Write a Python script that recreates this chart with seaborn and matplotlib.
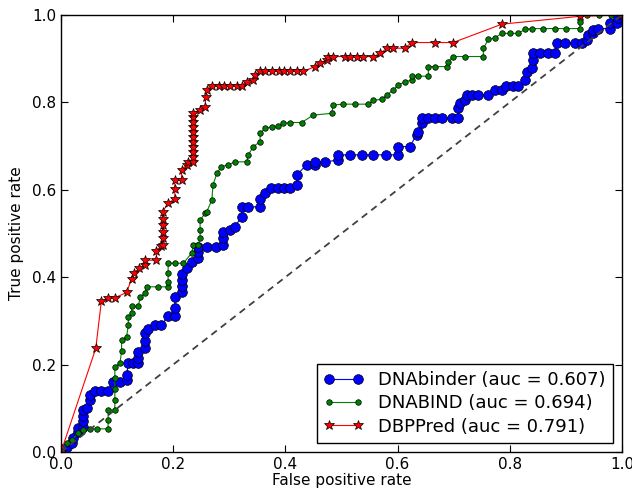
"""
Curvas ROC dos preditores de proteínas de ligação ao DNA
"""

import matplotlib
matplotlib.use('Agg')
import matplotlib.pyplot as plt
import seaborn as sns

# DNAbinder (auc = 0.607)
fpr_dnabinder = [0.0, 0.001, 0.010, 0.019, 0.022, 0.031, 0.031, 0.040, 0.040, 0.040, 0.040, 0.046,
                 0.052, 0.052, 0.060, 0.072, 0.084, 0.093, 0.105, 0.117, 0.117, 0.120, 0.129, 0.138,
                 0.138, 0.138, 0.150, 0.150, 0.150, 0.156, 0.167, 0.179, 0.191, 0.203, 0.203, 0.203,
                 0.215, 0.215, 0.215, 0.215, 0.224, 0.233, 0.245, 0.245, 0.245, 0.260, 0.277, 0.289,
                 0.289, 0.289, 0.301, 0.310, 0.322, 0.322, 0.334, 0.355, 0.355, 0.364, 0.375, 0.387,
                 0.397, 0.408, 0.420, 0.420, 0.438, 0.453, 0.453, 0.471, 0.494, 0.494, 0.515, 0.536,
                 0.557, 0.580, 0.601, 0.601, 0.622, 0.634, 0.637, 0.643, 0.643, 0.655, 0.667, 0.679,
                 0.697, 0.708, 0.708, 0.711, 0.720, 0.723, 0.732, 0.744, 0.762, 0.774, 0.786, 0.794,
                 0.806, 0.815, 0.827, 0.830, 0.839, 0.842, 0.842, 0.854, 0.869, 0.881, 0.884, 0.898,
                 0.916, 0.928, 0.937, 0.940, 0.949, 0.949, 0.958, 0.979, 0.979, 0.991, 0.993, 1.0]
tpr_dnabinder = [0.0, 0.008, 0.012, 0.020, 0.031, 0.046, 0.054, 0.057, 0.070, 0.083, 0.096, 0.100,
                 0.119, 0.130, 0.140, 0.140, 0.140, 0.161, 0.161, 0.165, 0.176, 0.203, 0.203, 0.203,
                 0.215, 0.228, 0.238, 0.255, 0.272, 0.282, 0.290, 0.290, 0.311, 0.311, 0.330, 0.355,
                 0.366, 0.380, 0.393, 0.408, 0.420, 0.435, 0.443, 0.458, 0.470, 0.470, 0.470, 0.474,
                 0.489, 0.504, 0.508, 0.516, 0.538, 0.561, 0.561, 0.561, 0.580, 0.592, 0.603, 0.603,
                 0.603, 0.603, 0.611, 0.634, 0.657, 0.657, 0.664, 0.664, 0.668, 0.680, 0.680, 0.680,
                 0.680, 0.680, 0.680, 0.699, 0.699, 0.726, 0.733, 0.752, 0.764, 0.764, 0.764, 0.764,
                 0.764, 0.764, 0.787, 0.798, 0.805, 0.817, 0.818, 0.818, 0.818, 0.828, 0.828, 0.838,
                 0.838, 0.838, 0.851, 0.870, 0.878, 0.897, 0.914, 0.914, 0.914, 0.914, 0.935, 0.937,
                 0.937, 0.937, 0.943, 0.954, 0.958, 0.966, 0.969, 0.969, 0.981, 0.981, 0.993, 1.0]

# DNABIND (auc = 0.694)
fpr_dnabind = [0.0, 0.010, 0.019, 0.031, 0.040, 0.052, 0.064, 0.084, 0.084, 0.084, 0.096, 0.096,
               0.096, 0.096, 0.096, 0.105, 0.108, 0.108, 0.117, 0.120, 0.120, 0.126, 0.126, 0.138,
               0.141, 0.150, 0.153, 0.173, 0.191, 0.191, 0.191, 0.191, 0.203, 0.218, 0.233, 0.236,
               0.245, 0.248, 0.248, 0.248, 0.257, 0.260, 0.269, 0.271, 0.278, 0.286, 0.298, 0.310,
               0.331, 0.334, 0.343, 0.355, 0.355, 0.364, 0.376, 0.387, 0.396, 0.408, 0.429, 0.450,
               0.483, 0.485, 0.503, 0.525, 0.548, 0.557, 0.572, 0.581, 0.592, 0.601, 0.613, 0.625,
               0.625, 0.637, 0.655, 0.655, 0.667, 0.688, 0.690, 0.699, 0.720, 0.753, 0.753, 0.762,
               0.774, 0.786, 0.800, 0.815, 0.827, 0.839, 0.860, 0.880, 0.901, 0.925, 0.925, 0.925,
               0.937, 0.960, 0.980, 1.0]
tpr_dnabind = [0.0, 0.020, 0.027, 0.043, 0.050, 0.053, 0.053, 0.053, 0.073, 0.096, 0.096, 0.120,
               0.145, 0.170, 0.195, 0.203, 0.230, 0.256, 0.264, 0.290, 0.310, 0.317, 0.333, 0.333,
               0.355, 0.363, 0.378, 0.378, 0.378, 0.390, 0.410, 0.432, 0.432, 0.432, 0.455, 0.474,
               0.474, 0.490, 0.508, 0.531, 0.546, 0.550, 0.577, 0.611, 0.638, 0.653, 0.657, 0.664,
               0.664, 0.680, 0.699, 0.710, 0.729, 0.741, 0.744, 0.746, 0.752, 0.754, 0.754, 0.771,
               0.775, 0.794, 0.796, 0.796, 0.796, 0.805, 0.807, 0.817, 0.828, 0.840, 0.847, 0.851,
               0.860, 0.860, 0.860, 0.882, 0.882, 0.882, 0.893, 0.905, 0.905, 0.905, 0.924, 0.944,
               0.948, 0.958, 0.958, 0.958, 0.967, 0.969, 0.969, 0.969, 0.969, 0.969, 0.985, 1.0,
               1.0, 1.0, 1.0, 1.0]

# DBPPred (auc = 0.791)
fpr_dbppred = [0.0, 0.062, 0.072, 0.084, 0.096, 0.117, 0.126, 0.130, 0.139, 0.150, 0.150, 0.170,
               0.170, 0.179, 0.181, 0.181, 0.181, 0.181, 0.181, 0.181, 0.191, 0.203, 0.203, 0.203,
               0.215, 0.215, 0.224, 0.227, 0.235, 0.235, 0.235, 0.235, 0.235, 0.235, 0.235, 0.235,
               0.235, 0.235, 0.235, 0.247, 0.257, 0.258, 0.260, 0.269, 0.281, 0.290, 0.301, 0.313,
               0.322, 0.331, 0.343, 0.346, 0.355, 0.364, 0.376, 0.388, 0.397, 0.408, 0.420, 0.432,
               0.453, 0.462, 0.474, 0.476, 0.485, 0.506, 0.515, 0.527, 0.539, 0.557, 0.569, 0.581,
               0.592, 0.613, 0.625, 0.667, 0.699, 0.786, 0.925, 1.0]
tpr_dbppred = [0.0, 0.237, 0.345, 0.353, 0.353, 0.365, 0.397, 0.409, 0.420, 0.428, 0.439, 0.439,
               0.461, 0.471, 0.474, 0.489, 0.504, 0.519, 0.534, 0.550, 0.569, 0.580, 0.601, 0.622,
               0.622, 0.645, 0.657, 0.664, 0.664, 0.675, 0.687, 0.698, 0.710, 0.721, 0.733, 0.744,
               0.756, 0.767, 0.775, 0.783, 0.790, 0.813, 0.828, 0.838, 0.838, 0.838, 0.838, 0.838,
               0.838, 0.847, 0.851, 0.863, 0.871, 0.871, 0.871, 0.871, 0.871, 0.871, 0.871, 0.871,
               0.882, 0.890, 0.897, 0.905, 0.905, 0.905, 0.905, 0.905, 0.905, 0.905, 0.912, 0.924,
               0.924, 0.924, 0.937, 0.937, 0.937, 0.979, 0.997, 1.0]

# Configurar estilo
sns.set_style("ticks", {"xtick.direction": "in", "ytick.direction": "in",
                        "axes.edgecolor": "black", "text.color": "black",
                        "axes.labelcolor": "black", "xtick.color": "black",
                        "ytick.color": "black"})
plt.rcParams['font.family'] = ['DejaVu Sans']

fig, ax = plt.subplots(figsize=(6.32, 4.92), dpi=100)
fig.subplots_adjust(left=0.0965, right=0.984, top=0.9695, bottom=0.0813)

sns.lineplot(x=fpr_dnabinder, y=tpr_dnabinder, sort=False, estimator=None, ax=ax,
             color='blue', marker='o', markersize=7, markeredgecolor='black',
             markeredgewidth=0.5, linewidth=0.8, label='DNAbinder (auc = 0.607)')
sns.lineplot(x=fpr_dnabind, y=tpr_dnabind, sort=False, estimator=None, ax=ax,
             color='green', marker='.', markersize=8, markeredgecolor='black',
             markeredgewidth=0.5, linewidth=0.8, label='DNABIND (auc = 0.694)')
sns.lineplot(x=fpr_dbppred, y=tpr_dbppred, sort=False, estimator=None, ax=ax,
             color='red', marker='*', markersize=7, markeredgecolor='black',
             markeredgewidth=0.5, linewidth=0.8, label='DBPPred (auc = 0.791)')

# linha de referência (classificador aleatório)
sns.lineplot(x=[0, 1], y=[0, 1], ax=ax, color='#404040', linestyle=(0, (3.8, 2.8)),
             linewidth=1.3)

ax.set_xlim(0, 1)
ax.set_ylim(0, 1)
ax.set_xticks([0.0, 0.2, 0.4, 0.6, 0.8, 1.0])
ax.set_yticks([0.0, 0.2, 0.4, 0.6, 0.8, 1.0])
ax.tick_params(top=True, right=True, labelsize=11, length=5, width=0.8, colors='black')
ax.set_xlabel('False positive rate', fontsize=11, labelpad=1)
ax.set_ylabel('True positive rate', fontsize=11, labelpad=6)
for sp in ax.spines.values():
    sp.set_linewidth(1.0)

leg = ax.legend(loc='lower right', numpoints=2, fontsize=13, fancybox=False,
                framealpha=1, edgecolor='black', handlelength=2.2, borderpad=0.4,
                labelspacing=0.3)
leg.get_frame().set_linewidth(1.0)

plt.savefig('out.png', dpi=100)
plt.close()
